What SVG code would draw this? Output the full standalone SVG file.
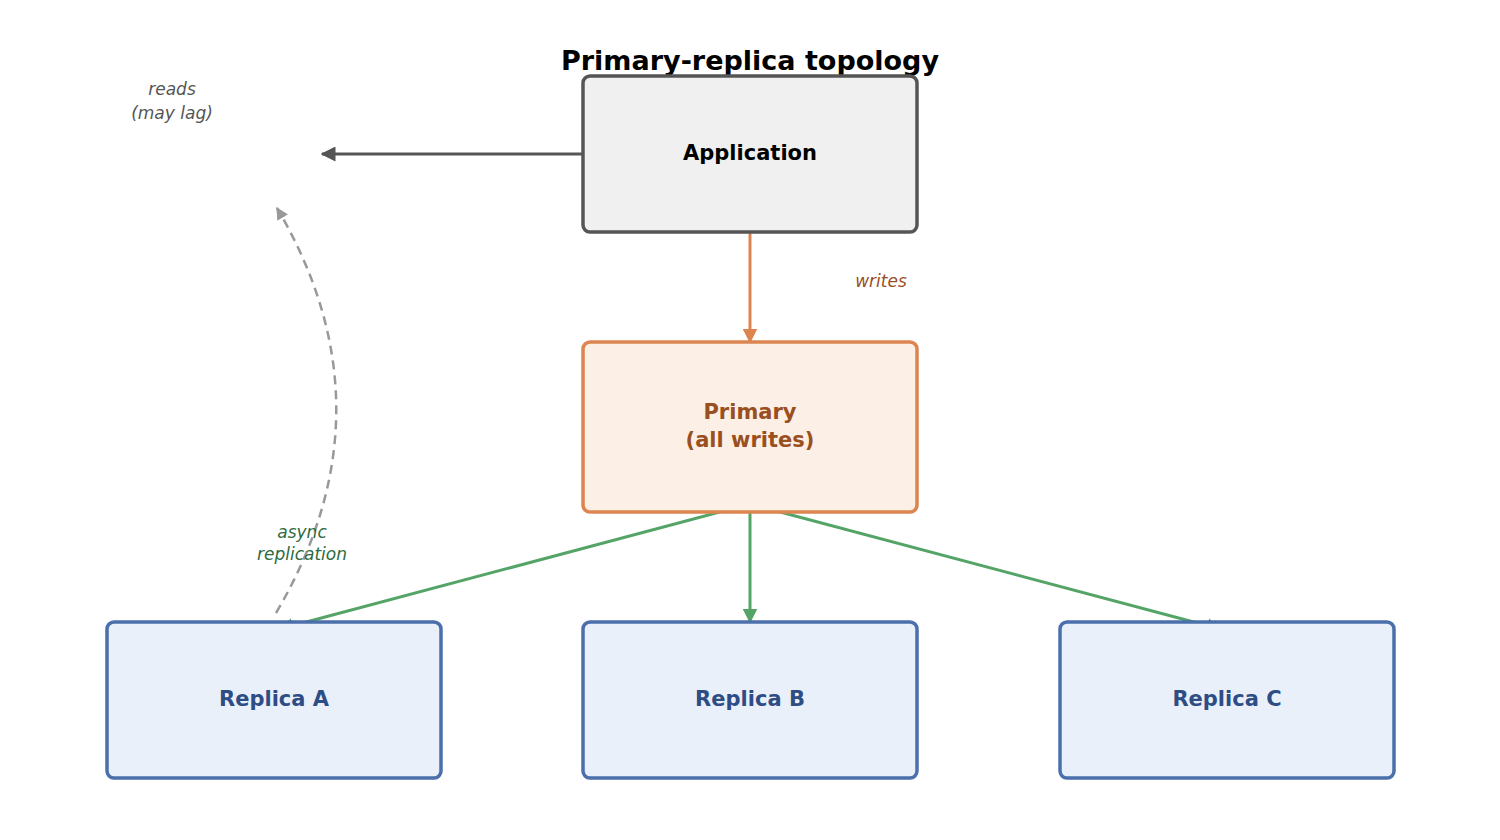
<svg xmlns="http://www.w3.org/2000/svg" width="1500" height="840" viewBox="0 0 1500 840">
<style>
text{font-family:"DejaVu Sans",sans-serif;text-anchor:middle}
.lbl{font-size:21px;font-weight:bold}
.it{font-size:17px;font-style:italic}
.rep rect{fill:#eaf0fa;stroke:#4a6fab;stroke-width:3.5}
.rep text{fill:#2e4d85}
</style>
<defs>
<marker id="ag" viewBox="0 0 10 10" refX="9" refY="5" markerWidth="5" markerHeight="5" orient="auto"><path d="M0,0L10,5L0,10z" fill="#55a467"/></marker>
<marker id="ao" viewBox="0 0 10 10" refX="9" refY="5" markerWidth="5" markerHeight="5" orient="auto"><path d="M0,0L10,5L0,10z" fill="#dd8550"/></marker>
<marker id="ad" viewBox="0 0 10 10" refX="9" refY="5" markerWidth="5" markerHeight="5" orient="auto"><path d="M0,0L10,5L0,10z" fill="#555"/></marker>
<marker id="ay" viewBox="0 0 10 10" refX="9" refY="5" markerWidth="5" markerHeight="5" orient="auto"><path d="M0,0L10,5L0,10z" fill="#999"/></marker>
</defs>
<rect width="1500" height="840" fill="#fff"/>
<text x="750" y="70" style="font-size:27px;font-weight:bold">Primary-replica topology</text>
<g id="connectors" fill="none" stroke-width="3">
<path d="M588,154H322" stroke="#555" marker-end="url(#ad)"/>
<path d="M750,228V342" stroke="#dd8550" marker-end="url(#ao)"/>
<path d="M746,505L280,629" stroke="#55a467" marker-end="url(#ag)"/>
<path d="M750,505V622" stroke="#55a467" marker-end="url(#ag)"/>
<path d="M754,505L1220,629" stroke="#55a467" marker-end="url(#ag)"/>
<path d="M276,613Q396,410 277,208" stroke="#999" stroke-width="2.5" stroke-dasharray="9,6" marker-end="url(#ay)"/>
<text class="it" x="172" y="95" fill="#555" stroke="none">reads</text>
<text class="it" x="172" y="119" fill="#555" stroke="none">(may lag)</text>
<text class="it" x="881" y="287" fill="#9a4f1f" stroke="none">writes</text>
<text class="it" x="302" y="538" fill="#2e6b3e" stroke="none">async</text>
<text class="it" x="302" y="560" fill="#2e6b3e" stroke="none">replication</text>
</g>
<g id="application"><rect x="583" y="76" width="334" height="156" rx="7" fill="#f0f0f0" stroke="#555" stroke-width="3.5"/><text class="lbl" x="750" y="160" fill="#000">Application</text></g>
<g id="primary"><rect x="583" y="342" width="334" height="170" rx="7" fill="#fcefe5" stroke="#dd8550" stroke-width="3.5"/><text class="lbl" x="750" y="419" fill="#9a4f1f">Primary</text><text class="lbl" x="750" y="447" fill="#9a4f1f">(all writes)</text></g>
<g id="replicaA" class="rep"><rect x="107" y="622" width="334" height="156" rx="7"/><text class="lbl" x="274" y="706">Replica A</text></g>
<g id="replicaB" class="rep"><rect x="583" y="622" width="334" height="156" rx="7"/><text class="lbl" x="750" y="706">Replica B</text></g>
<g id="replicaC" class="rep"><rect x="1060" y="622" width="334" height="156" rx="7"/><text class="lbl" x="1227" y="706">Replica C</text></g>
</svg>
